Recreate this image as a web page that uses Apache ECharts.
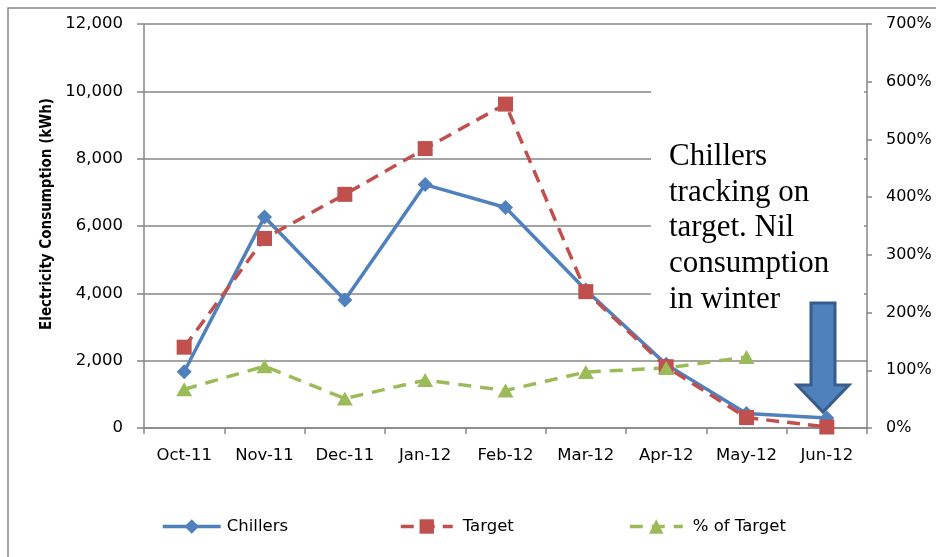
<!DOCTYPE html>
<html>
<head>
<meta charset="utf-8">
<script src="https://cdn.jsdelivr.net/npm/echarts@6/dist/echarts.min.js"></script>
<style>
html,body{margin:0;padding:0;background:#fff;}
#chart{width:936px;height:557px;}
</style>
</head>
<body>
<div id="chart"></div>
<script>
const categories = ['Oct-11','Nov-11','Dec-11','Jan-12','Feb-12','Mar-12','Apr-12','May-12','Jun-12'];
const chillers = [1670, 6270, 3800, 7230, 6550, 4100, 1890, 430, 300];
const target = [2400, 5630, 6940, 8300, 9620, 4050, 1820, 310, 30];
const pctOfTarget = [67, 107, 51, 83, 65, 97, 104, 123, null];
const leftTicks = {min: 0, max: 12000, interval: 2000};
const rightTicks = {min: 0, max: 700, interval: 100};
const annotation = 'Chillers\ntracking on\ntarget. Nil\nconsumption\nin winter';

const AX = '#868686';
const condFont = '"DejaVu Sans Condensed", "Liberation Sans", sans-serif';
const labelFont = '"DejaVu Sans", sans-serif';

function legendItem(name, left, width, gap) {
  return {left: left, top: 518, itemWidth: width, itemHeight: 18, padding: 0, itemGap: 0,
    data: [name],
    lineStyle: {width: 3.5},
    textStyle: {fontFamily: labelFont, fontSize: 16.5, color: '#000', padding: [0, 0, 0, gap]}};
}

const chart = echarts.init(document.getElementById('chart'));
chart.setOption({
  animation: false,
  backgroundColor: '#fff',
  grid: {left: 144, right: 69, top: 24, bottom: 129, containLabel: false, outerBoundsMode: 'none'},
  legend: [
    legendItem('Chillers', 161, 58, 1),
    legendItem('Target', 399, 52, 5),
    legendItem('% of Target', 628, 53, 5)
  ],
  xAxis: {
    type: 'category',
    data: categories,
    boundaryGap: true,
    axisLine: {lineStyle: {color: AX, width: 1.5}},
    axisTick: {show: true, inside: false, length: 6, interval: 0, lineStyle: {color: AX, width: 1.5}},
    axisLabel: {fontFamily: labelFont, fontSize: 16.5, color: '#000', margin: 19, interval: 0,
      hideOverlap: false},
    splitLine: {show: false}
  },
  yAxis: [
    {
      type: 'value',
      min: leftTicks.min, max: leftTicks.max, interval: leftTicks.interval,
      name: 'Electricity Consumption (kWh)',
      nameLocation: 'middle',
      nameGap: 89,
      nameRotate: 90,
      nameTextStyle: {fontFamily: condFont, fontSize: 15, fontWeight: 'bold', color: '#000',
        padding: [0, 0, 0, 24]},
      axisLine: {show: true, lineStyle: {color: AX, width: 1.5}},
      axisTick: {show: true, length: 7, lineStyle: {color: AX, width: 1.5}},
      axisLabel: {fontFamily: labelFont, fontSize: 16.5, color: '#000', margin: 21,
        formatter: v => v.toLocaleString('en-US')},
      splitLine: {show: true, lineStyle: {color: AX, width: 1.5}}
    },
    {
      type: 'value',
      min: rightTicks.min, max: rightTicks.max, interval: rightTicks.interval,
      position: 'right',
      axisLine: {show: true, lineStyle: {color: AX, width: 1.5}},
      axisTick: {show: true, length: 5, lineStyle: {color: AX, width: 1.5}},
      axisLabel: {fontFamily: labelFont, fontSize: 16, color: '#000', margin: 19,
        formatter: v => v + '%'},
      splitLine: {show: false}
    }
  ],
  series: [
    {
      name: 'Chillers', type: 'line', yAxisIndex: 0, data: chillers,
      symbol: 'diamond', symbolSize: 15,
      itemStyle: {color: '#4F81BD'},
      lineStyle: {color: '#4F81BD', width: 3.5}
    },
    {
      name: 'Target', type: 'line', yAxisIndex: 0, data: target,
      symbol: 'rect', symbolSize: 15,
      itemStyle: {color: '#C0504D'},
      lineStyle: {color: '#C0504D', width: 3.5, type: [13, 8]}
    },
    {
      name: '% of Target', type: 'line', yAxisIndex: 1, data: pctOfTarget,
      symbol: 'triangle', symbolSize: [16, 14],
      itemStyle: {color: '#9BBB59'},
      lineStyle: {color: '#9BBB59', width: 3.5, type: [13, 9]}
    }
  ],
  graphic: [
    {type: 'rect', z: -10, silent: true,
     shape: {x: 8, y: 8, width: 1000, height: 700},
     style: {fill: 'none', stroke: AX, lineWidth: 1.5}},
    {type: 'rect', z: 1, silent: true,
     shape: {x: 651, y: 40, width: 213, height: 285},
     style: {fill: '#fff', stroke: 'none'}},
    {type: 'text', z: 2, silent: true, left: 669, top: 139,
     style: {text: annotation, fontFamily: '"Liberation Serif", "Times New Roman", serif',
       fontSize: 31, lineHeight: 35.7, fill: '#000'}},
    {type: 'polygon', z: 10, silent: true,
     shape: {points: [[811,303],[835,303],[835,385],[849,385],[823,412],[797,385],[811,385]]},
     style: {fill: '#4F81BD', stroke: '#385D8A', lineWidth: 3}}
  ]
});
</script>
</body>
</html>
